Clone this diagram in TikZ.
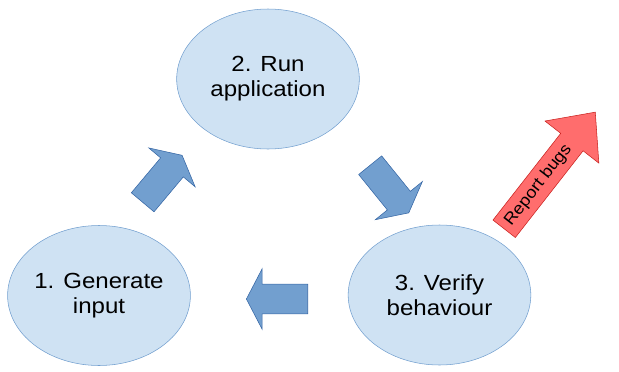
\documentclass[tikz,border=0pt]{standalone}
\usepackage{fontspec}
\setmainfont{Liberation Sans}[FakeStretch=1.1]
\usepackage{tikz}
\usetikzlibrary{positioning,shapes.arrows,shapes.geometric}

\definecolor{stagefill}{RGB}{207,226,243}
\definecolor{stageline}{RGB}{114,159,207}
\definecolor{flowfill}{RGB}{114,159,207}
\definecolor{flowline}{RGB}{52,101,164}
\definecolor{bugfill}{RGB}{255,109,109}
\definecolor{bugline}{RGB}{201,33,30}

\begin{document}
\begin{tikzpicture}[x=0.75pt, y=-0.75pt,
    stage/.style={draw=stageline, fill=stagefill, ellipse, align=center, inner sep=0pt,
        minimum width=137pt, minimum height=105pt, font=\fontsize{16.4}{18.75}\selectfont},
    flow/.style={draw=flowline, fill=flowfill, single arrow, inner xsep=0pt, inner ysep=10.9pt,
        single arrow head extend=11.6pt, single arrow tip angle=125, minimum height=46pt},
    bug/.style={draw=bugline, fill=bugfill, single arrow, inner xsep=2pt, inner ysep=4.7pt,
        single arrow head extend=15pt, single arrow tip angle=84, minimum height=111pt,
        font=\fontsize{12.3}{14}\selectfont}]
    \useasboundingbox (0,0) rectangle (619,372);

    \node[stage] (gen) at (99,295.5) {1. Generate\\input};
    \node[stage] (run) at (268,79) {2. Run\\application};
    \node[stage] (verify) at (439.5,295) {3. Verify\\behaviour};

    % arrows between the stages
    \node[flow, rotate=50, anchor=tail] (genrun) at (142.5,202.5) {};
    \node[flow, rotate=-51, anchor=tail] (runverify) at (370,165) {};
    \node[flow, rotate=180, anchor=tail] (verifygen) at (308,299) {};

    \node[bug, rotate=52, anchor=tail] (bugs) at (504,229) {Report bugs\hspace*{16pt}};
\end{tikzpicture}
\end{document}
